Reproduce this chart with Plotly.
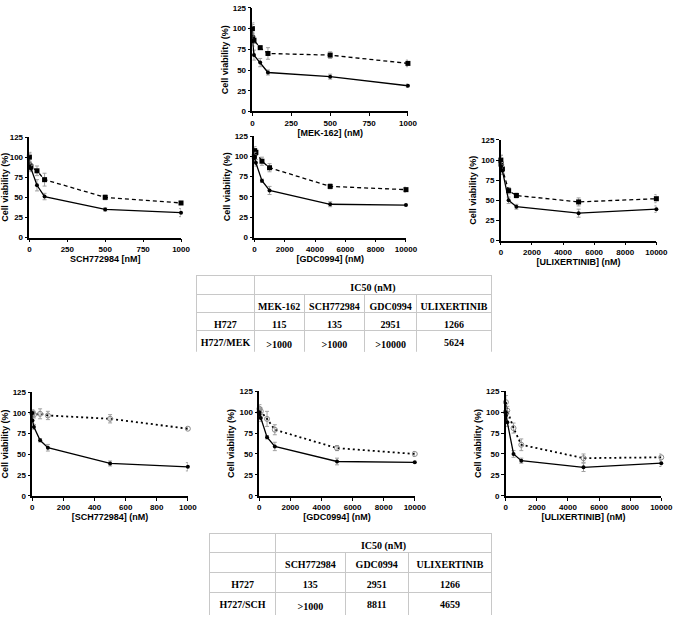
import plotly.graph_objects as go

# ---------------- data ----------------
# Top panel: MEK-162
mek_x = [0, 1, 10, 50, 100, 500, 1000]
mek_h727 = [100, 85, 68, 59, 47, 42, 31]
mek_h727_err = [5, 6, 6, 5, 3, 3, 2]
mek_res = [100, 89, 86, 77, 70, 68, 58]
mek_res_err = [7, 5, 4, 2, 7, 4, 4]

# Middle row: H727 vs H727/MEK
sch_x = [0, 1, 10, 50, 100, 500, 1000]
sch_h727 = [100, 88, 86, 65, 51, 35, 31]
sch_h727_err = [5, 4, 4, 7, 4, 2, 5]
sch_res = [100, 90, 88, 83, 72, 50, 43]
sch_res_err = [6, 4, 4, 6, 8, 3, 2]

gdc_x = [0, 10, 100, 500, 1000, 5000, 10000]
gdc_h727 = [100, 98, 92, 70, 58, 41, 40]
gdc_h727_err = [5, 4, 4, 2, 5, 3, 1]
gdc_res = [100, 107, 105, 94, 86, 63, 59]
gdc_res_err = [6, 5, 4, 5, 5, 3, 3]

ulx_x = [0, 10, 100, 500, 1000, 5000, 10000]
ulx_h727 = [100, 92, 87, 50, 42, 34, 39]
ulx_h727_err = [6, 5, 5, 4, 3, 5, 4]
ulx_res = [100, 95, 89, 62, 56, 48, 52]
ulx_res_err = [6, 5, 5, 4, 3, 5, 5]

# Bottom row: H727 vs H727/SCH
sch2_x = [0, 1, 10, 50, 100, 500, 1000]
sch2_h727 = [100, 91, 83, 67, 58, 39, 35]
sch2_h727_err = [3, 4, 3, 2, 4, 3, 5]
sch2_res = [100, 99, 98, 99, 97, 93, 81]
sch2_res_err = [4, 4, 4, 6, 5, 5, 1]

gdc2_x = [0, 10, 100, 500, 1000, 5000, 10000]
gdc2_h727 = [100, 97, 93, 70, 59, 41, 40]
gdc2_h727_err = [6, 5, 4, 2, 5, 4, 1]
gdc2_res = [100, 104, 101, 92, 79, 57, 50]
gdc2_res_err = [6, 5, 4, 9, 6, 3, 3]

ulx2_x = [0, 10, 100, 500, 1000, 5000, 10000]
ulx2_h727 = [100, 96, 88, 50, 42, 34, 39]
ulx2_h727_err = [6, 5, 5, 4, 3, 5, 4]
ulx2_res = [100, 112, 102, 81, 61, 45, 46]
ulx2_res_err = [6, 8, 5, 6, 7, 5, 4]

# Tables
tab1_cols = ["MEK-162", "SCH772984", "GDC0994", "ULIXERTINIB"]
tab1_rows = ["H727", "H727/MEK"]
tab1_h727 = ["115", "135", "2951", "1266"]
tab1_res = [">1000", ">1000", ">10000", "5624"]

tab2_cols = ["SCH772984", "GDC0994", "ULIXERTINIB"]
tab2_rows = ["H727", "H727/SCH"]
tab2_h727 = ["135", "2951", "1266"]
tab2_res = [">1000", "8811", "4659"]

W, H = 685, 620

def fx(px):
    return min(max(px / W, 0.0), 1.0)

def fy(py):
    return min(max(1 - py / H, 0.0), 1.0)

fig = go.Figure()

TICKFONT = dict(family="Liberation Sans, Arial", size=8, color="black", weight="bold")
TITLEFONT = dict(family="Liberation Sans, Arial", size=9, color="black", weight="bold")

panels = [
    (mek_x, mek_h727, mek_h727_err, mek_res, mek_res_err, "[MEK-162] (nM)", (255, 414), (109, 4), 1000, 250, "dash"),
    (sch_x, sch_h727, sch_h727_err, sch_res, sch_res_err, "SCH772984 [nM]", (27, 182), (237, 135), 1000, 250, "dash"),
    (gdc_x, gdc_h727, gdc_h727_err, gdc_res, gdc_res_err, "[GDC0994] (nM)", (257, 412), (237, 134), 10000, 2000, "dash"),
    (ulx_x, ulx_h727, ulx_h727_err, ulx_res, ulx_res_err, "[ULIXERTINIB] (nM)", (509, 668), (240, 138), 10000, 2000, "dash"),
    (sch2_x, sch2_h727, sch2_h727_err, sch2_res, sch2_res_err, "[SCH772984] (nM)", (30, 189), (499, 394), 1000, 200, "dot"),
    (gdc2_x, gdc2_h727, gdc2_h727_err, gdc2_res, gdc2_res_err, "[GDC0994] (nM)", (262, 421), (499, 393), 10000, 2000, "dot"),
    (ulx2_x, ulx2_h727, ulx2_h727_err, ulx2_res, ulx2_res_err, "[ULIXERTINIB] (nM)", (514, 673), (499, 393), 10000, 2000, "dot"),
]

for i, (xs, s, se, o, oe, xt, xd, yd, xmax, dt, style) in enumerate(panels, start=1):
    xa = "x" if i == 1 else f"x{i}"
    ya = "y" if i == 1 else f"y{i}"
    if style == "dash":
        omarker = dict(symbol="square", size=5, color="black")
        oline = dict(color="black", width=1.3, dash="4px,3px")
    else:
        omarker = dict(symbol="circle-open", size=5, color="#888888", line=dict(width=1))
        oline = dict(color="black", width=1.8, dash="2px,3px")
    fig.add_trace(go.Scatter(
        x=xs, y=o, mode="lines+markers", xaxis=xa, yaxis=ya,
        line=oline, marker=omarker, cliponaxis=False, showlegend=False,
        error_y=dict(type="data", array=oe, color="#a0a0a0", thickness=1, width=2)))
    fig.add_trace(go.Scatter(
        x=xs, y=s, mode="lines+markers", xaxis=xa, yaxis=ya,
        line=dict(color="black", width=1.3), marker=dict(symbol="circle", size=4, color="black"),
        cliponaxis=False, showlegend=False,
        error_y=dict(type="data", array=se, color="#a0a0a0", thickness=1, width=2)))
    xkey = "xaxis" if i == 1 else f"xaxis{i}"
    ykey = "yaxis" if i == 1 else f"yaxis{i}"
    fig.update_layout(**{
        xkey: dict(domain=[fx(xd[0]), fx(xd[1])], range=[0, xmax], anchor=ya,
                   showgrid=False, zeroline=False, showline=True, linecolor="black", linewidth=1.5,
                   ticks="outside", ticklen=3, tickwidth=1.2, tickcolor="black", dtick=dt, tick0=0,
                   tickformat="d", tickfont=TICKFONT, title=dict(text=xt, font=TITLEFONT, standoff=2)),
        ykey: dict(domain=[fy(yd[0]), fy(yd[1])], range=[0, 125], anchor=xa,
                   showgrid=False, zeroline=False, showline=True, linecolor="black", linewidth=1.5,
                   ticks="outside", ticklen=3, tickwidth=1.2, tickcolor="black", dtick=25, tick0=0,
                   tickfont=TICKFONT, title=dict(text="Cell viability (%)", font=TITLEFONT, standoff=3)),
    })

# ---------------- tables ----------------
SERIF = dict(family="Liberation Serif, DejaVu Serif", size=10, color="black", weight="bold")
LINE = "#c8c8c8"

def add_table(col_edges, top, heights, cols, rows, v1, v2):
    left, right = col_edges[0], col_edges[-1]
    widths = [col_edges[k + 1] - col_edges[k] for k in range(len(col_edges) - 1)]
    h0, h1, h2 = heights
    fig.add_trace(go.Table(
        domain=dict(x=[fx(left), fx(right)], y=[fy(top + h0 + 2), fy(top)]),
        columnwidth=[widths[0], sum(widths[1:])],
        header=dict(values=["", "IC50 (nM)"], height=h0, align="center",
                    line=dict(color=LINE, width=1), fill=dict(color="white"), font=SERIF),
        cells=dict(values=[[], []], height=h1, line=dict(color=LINE, width=1),
                   fill=dict(color="white")),
    ))
    cell_vals = [rows] + [[a, c] for a, c in zip(v1, v2)]
    t2 = top + h0
    fig.add_trace(go.Table(
        domain=dict(x=[fx(left), fx(right)], y=[fy(t2 + h1 + 2 * h2 + 4), fy(t2)]),
        columnwidth=widths,
        header=dict(values=[""] + cols, height=h1, align="center",
                    line=dict(color=LINE, width=1), fill=dict(color="white"), font=SERIF),
        cells=dict(values=cell_vals, height=h2, align="center",
                   line=dict(color=LINE, width=1), fill=dict(color="white"), font=SERIF),
    ))

add_table([198, 257, 308, 370, 423, 500], 275, (20, 18, 18), tab1_cols, tab1_rows, tab1_h727, tab1_res)
add_table([211, 279, 350, 415, 500], 537, (20, 20, 20), tab2_cols, tab2_rows, tab2_h727, tab2_res)

fig.update_layout(
    width=W, height=H, margin=dict(l=0, r=0, t=0, b=0),
    paper_bgcolor="white", plot_bgcolor="white",
    font=dict(family="Liberation Sans, Arial", color="black"),
)

fig.write_html("out.html", config={"displayModeBar": False},
               post_script="document.body.style.margin='0px';document.body.style.overflow='hidden';")
